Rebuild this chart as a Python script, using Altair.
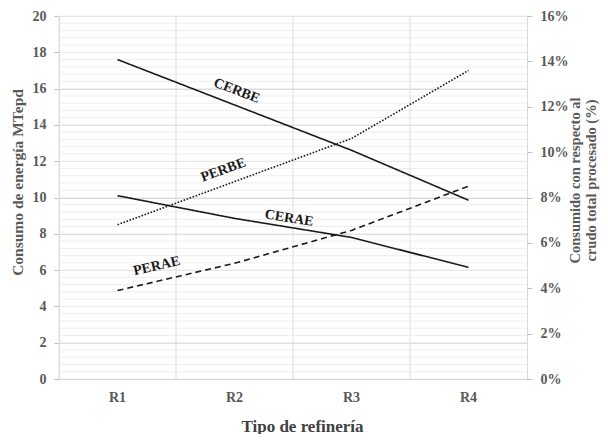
import altair as alt
import pandas as pd

# ---- data ----
refinerias = ["R1", "R2", "R3", "R4"]
cerbe = [17.6, 15.1, 12.6, 9.85]    # MTepd (left axis)
cerae = [10.1, 8.85, 7.8, 6.15]     # MTepd (left axis)
perbe = [6.8, 8.7, 10.6, 13.6]      # % (right axis)
perae = [3.9, 5.1, 6.55, 8.5]       # % (right axis)
left_ticks = [0, 2, 4, 6, 8, 10, 12, 14, 16, 18, 20]
right_ticks = [0, 2, 4, 6, 8, 10, 12, 14, 16]
minor_grid = [round(i * 0.4, 1) for i in range(51)]

FONT = "Liberation Serif"
GRAY = "#595959"
INK = "#1a1a1a"


def frame(vals, name):
    return pd.DataFrame({"ref": refinerias, "v": vals, "serie": name})


cer = pd.concat([frame(cerbe, "CERBE"), frame(cerae, "CERAE")])
per = pd.concat([frame(perbe, "PERBE"), frame(perae, "PERAE")])

x_axis = alt.Axis(
    title="Tipo de refinería", grid=False, ticks=False, domain=True,
    domainColor="#bfbfbf", labelAngle=0, labelPadding=11,
    labelFont=FONT, labelFontSize=14, labelFontWeight="bold", labelColor=GRAY,
    titleFont=FONT, titleFontSize=17, titleFontWeight="bold", titleColor="#404040",
    titleX=243, titleY=47, titleAlign="center", titleBaseline="middle",
)


def xenc(band=0.5):
    return alt.X(
        "ref:N",
        scale=alt.Scale(type="band", domain=refinerias, paddingInner=0, paddingOuter=0),
        bandPosition=band,
        axis=x_axis,
    )


left_scale = alt.Scale(domain=[0, 20], nice=False, zero=True)
right_scale = alt.Scale(domain=[0, 16], nice=False, zero=True)

left_axis = alt.Axis(
    values=left_ticks, grid=True, gridColor="#d9d9d9", domain=False,
    ticks=True, tickColor="#bfbfbf", tickSize=5, labelPadding=8,
    labelFont=FONT, labelFontSize=14, labelFontWeight="bold", labelColor=GRAY,
    title="Consumo de energía MTepd", titleFont=FONT, titleFontSize=15.5,
    titleFontWeight="bold", titleColor=GRAY, titleAngle=270,
    titleX=-42, titleY=166, titleAlign="center", titleBaseline="middle",
)

right_axis = alt.Axis(
    orient="right", values=right_ticks, grid=False, domain=False,
    ticks=True, tickColor="#bfbfbf", tickSize=5, labelPadding=8,
    labelExpr="datum.value + '%'",
    labelFont=FONT, labelFontSize=14, labelFontWeight="bold", labelColor=GRAY,
    title=["Consumido con respecto al", "crudo total procesado (%)"],
    titleFont=FONT, titleFontSize=14.5, titleFontWeight="bold", titleColor=GRAY,
    titleAngle=270, titleLineHeight=16,
    titleX=48, titleY=164, titleAlign="center", titleBaseline="middle",
)

# minor horizontal grid
minor = alt.Chart(pd.DataFrame({"v": minor_grid})).mark_rule(
    color="#eeeeee", strokeWidth=1
).encode(y=alt.Y("v:Q", scale=left_scale, axis=left_axis))

# vertical grid lines at category boundaries
vgrid = alt.Chart(pd.DataFrame({"ref": refinerias})).mark_rule(
    color="#dedede", strokeWidth=1
).encode(x=xenc(0))


def line(data, name, dash, scale, axis):
    return alt.Chart(data).transform_filter(
        alt.datum.serie == name
    ).mark_line(color=INK, strokeWidth=1.6, strokeDash=dash).encode(
        x=xenc(), y=alt.Y("v:Q", scale=scale, axis=axis)
    )


def label(data, name, ref, dx, dy, angle, scale, axis):
    # dx/dy are offsets in the rotated text frame
    return alt.Chart(data).transform_filter(
        (alt.datum.serie == name) & (alt.datum.ref == ref)
    ).mark_text(
        text=name, font=FONT, fontSize=14, fontWeight="bold", color=INK,
        align="center", baseline="middle", dx=dx, dy=dy, angle=angle,
    ).encode(x=xenc(), y=alt.Y("v:Q", scale=scale, axis=axis))


left = alt.layer(
    minor,
    vgrid,
    line(cer, "CERBE", [1, 0], left_scale, left_axis),
    line(cer, "CERAE", [1, 0], left_scale, left_axis),
    label(cer, "CERBE", "R2", -3, -14, 21, left_scale, left_axis),
    label(cer, "CERAE", "R2", 54, -8.7, 9, left_scale, left_axis),
)

right = alt.layer(
    line(per, "PERBE", [1.6, 1.6], right_scale, right_axis),
    line(per, "PERAE", [6, 4], right_scale, right_axis),
    label(per, "PERBE", "R2", -6.5, -14.7, 340, right_scale, right_axis),
    label(per, "PERAE", "R1", 43.7, -15, 347, right_scale, right_axis),
)

chart = alt.layer(left, right).resolve_scale(y="independent").properties(
    width=468, height=363,
    autosize=alt.AutoSizeParams(type="none"),
    padding={"left": 51, "top": 8, "right": 73, "bottom": 55},
).configure_view(stroke="#d9d9d9", strokeWidth=1)

chart.save("out.html", embed_options={"renderer": "svg", "actions": False})
